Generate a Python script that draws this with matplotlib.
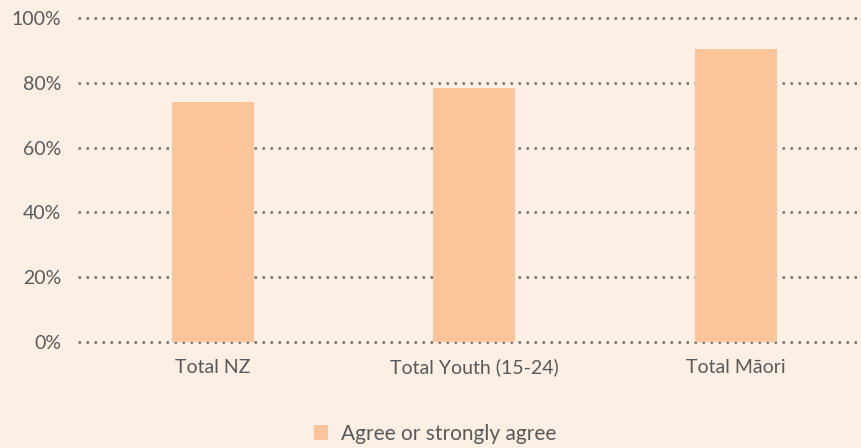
import matplotlib.pyplot as plt
from matplotlib.ticker import PercentFormatter

# dati
categories = ["Total NZ", "Total Youth (15-24)", "Total Māori"]
agree = [74.1, 78.4, 90.4]
yticks = [0, 20, 40, 60, 80, 100]

bg = "#FDEFE3"
bar_color = "#FBC49A"
text_color = "#58595b"

plt.rcParams['font.family'] = ['Lato', 'DejaVu Sans']

fig = plt.figure(figsize=(8.61, 4.48), dpi=100, facecolor=bg)
ax = fig.add_axes([78 / 861, 106 / 448, 783 / 861, 324 / 448], facecolor=bg)

x = range(len(categories))
ax.bar(x, agree, width=0.314, color=bar_color, zorder=3,
       label="Agree or strongly agree")

ax.set_xlim(-0.515, 2.479)
ax.set_ylim(0, 100)
ax.set_yticks(yticks)
ax.yaxis.set_major_formatter(PercentFormatter(decimals=0))
ax.set_xticks(list(x))
ax.set_xticklabels(categories)

ax.grid(axis='y', linestyle=(0, (1, 2.2)), linewidth=1.8, color="#6b6b6b", zorder=1)
for gl in ax.get_ygridlines():
    gl.set_clip_on(False)
ax.set_axisbelow(True)
for s in ax.spines.values():
    s.set_visible(False)
ax.tick_params(axis='both', length=0, labelsize=14, labelcolor=text_color)
ax.tick_params(axis='y', pad=12)
ax.tick_params(axis='x', pad=12)

fig.legend(loc='lower center', bbox_to_anchor=(0.505, -0.032), frameon=False,
           fontsize=15, labelcolor=text_color, handlelength=0.7, handleheight=0.7,
           handletextpad=0.6)

fig.savefig("out.png", dpi=100, facecolor=bg)
